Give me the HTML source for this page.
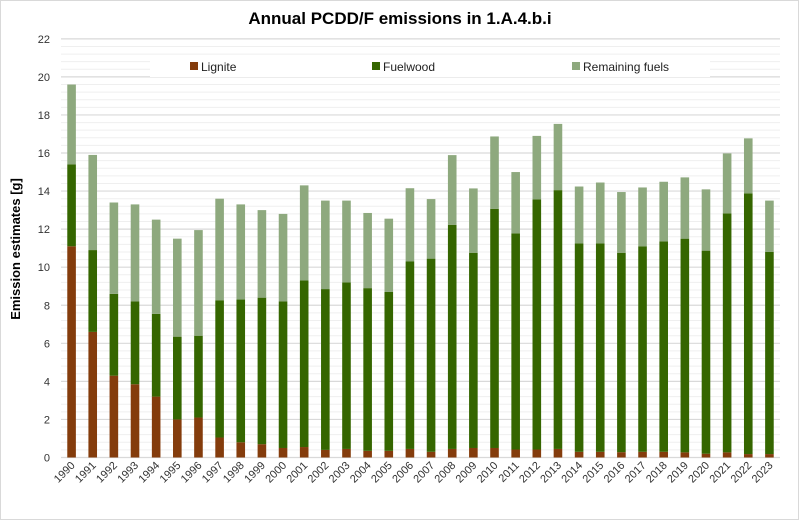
<!DOCTYPE html>
<html><head><meta charset="utf-8"><style>
html,body{margin:0;padding:0;background:#fff;}
svg{display:block;font-family:"Liberation Sans",sans-serif;}
</style></head><body>
<svg id="chart" width="800" height="521" viewBox="0 0 800 521">
<rect x="0.5" y="0.5" width="798" height="519" fill="#fff" stroke="#d9d9d9"/>
<text x="400" y="24" text-anchor="middle" font-size="17" font-weight="bold" fill="#000">Annual PCDD/F emissions in 1.A.4.b.i</text>
<text transform="translate(20,249) rotate(-90)" text-anchor="middle" font-size="13" font-weight="bold" fill="#000">Emission estimates [g]</text>
<g id="grid"></g>
<g id="ylabels"></g>
<rect x="150" y="58" width="560" height="19" fill="#fff"/>
<g id="bars"></g>
<g id="xlabels"></g>
<g>
<rect x="190" y="62" width="8" height="8" fill="#843C0C"/>
<text x="201" y="71" font-size="12" fill="#222">Lignite</text>
<rect x="372" y="62" width="8" height="8" fill="#356600"/>
<text x="383" y="71" font-size="12" fill="#222">Fuelwood</text>
<rect x="572" y="62" width="8" height="8" fill="#8EA97E"/>
<text x="583" y="71" font-size="12" fill="#222">Remaining fuels</text>
</g>
</svg>
<script>
const years = ["1990","1991","1992","1993","1994","1995","1996","1997","1998","1999","2000","2001","2002","2003","2004","2005","2006","2007","2008","2009","2010","2011","2012","2013","2014","2015","2016","2017","2018","2019","2020","2021","2022","2023"];
const lignite = [11.1,6.6,4.3,3.85,3.2,2.0,2.1,1.05,0.8,0.7,0.5,0.55,0.4,0.45,0.35,0.35,0.45,0.3,0.45,0.5,0.5,0.42,0.42,0.45,0.3,0.3,0.28,0.3,0.3,0.27,0.2,0.27,0.18,0.18];
const fuelwood = [4.3,4.3,4.3,4.35,4.35,4.35,4.3,7.2,7.5,7.7,7.7,8.75,8.45,8.75,8.55,8.35,9.85,10.15,11.78,10.26,12.57,11.36,13.14,13.6,10.95,10.95,10.48,10.8,11.06,11.23,10.67,12.56,13.7,10.62];
const remaining = [4.2,5.0,4.8,5.1,4.95,5.15,5.55,5.35,5.0,4.6,4.6,5.0,4.65,4.3,3.95,3.85,3.85,3.13,3.66,3.38,3.8,3.22,3.34,3.48,2.99,3.2,3.19,3.09,3.13,3.22,3.22,3.15,2.89,2.7];
const yTicks = [0,2,4,6,8,10,12,14,16,18,20,22];

const NS = "http://www.w3.org/2000/svg";
const L = 61, R = 780, Y0 = 457.5, PPU = 19.03;
const band = (R - L) / years.length, bw = 8.6;
function yScale(v){ return Y0 - v * PPU; }
function xCenter(i){ return L + band * (i + 0.5); }
function mk(tag, attrs, parent){ const e = document.createElementNS(NS, tag); for (const k in attrs) e.setAttribute(k, attrs[k]); parent.appendChild(e); return e; }

const grid = document.getElementById("grid");
for (let v = 0; v <= 22.001; v += 0.4) {
  const major = Math.abs(v / 2 - Math.round(v / 2)) < 1e-6;
  const ln = mk("line", {x1: L, x2: R, y1: yScale(v), y2: yScale(v), stroke: major ? "#d9d9d9" : "#efefef", "stroke-width": major ? 1.2 : 1}, grid);
  
  
}
const yl = document.getElementById("ylabels");
yTicks.forEach(t => {
  const tx = mk("text", {x: 50, y: yScale(t) + 4, "text-anchor": "end", "font-size": 11, fill: "#333"}, yl);
  tx.textContent = t;
  
  
});
const bars = document.getElementById("bars");
const xl = document.getElementById("xlabels");
years.forEach((yr, i) => {
  const x = xCenter(i) - bw / 2;
  let base = 0;
  [[lignite, "#843C0C", "lignite"], [fuelwood, "#356600", "fuelwood"], [remaining, "#8EA97E", "remaining"]].forEach(([arr, col, nm]) => {
    const v = arr[i];
    const r = mk("rect", {x: x, y: yScale(base + v), width: bw, height: v * PPU, fill: col}, bars);
    
    
    base += v;
  });
  const cx = xCenter(i) + 4, cy = 466;
  const t = mk("text", {x: cx, y: cy, "text-anchor": "end", "font-size": 11, fill: "#333", transform: "rotate(-45 " + cx + " " + cy + ")"}, xl);
  t.textContent = yr;
  
  
});
</script>
</body></html>
